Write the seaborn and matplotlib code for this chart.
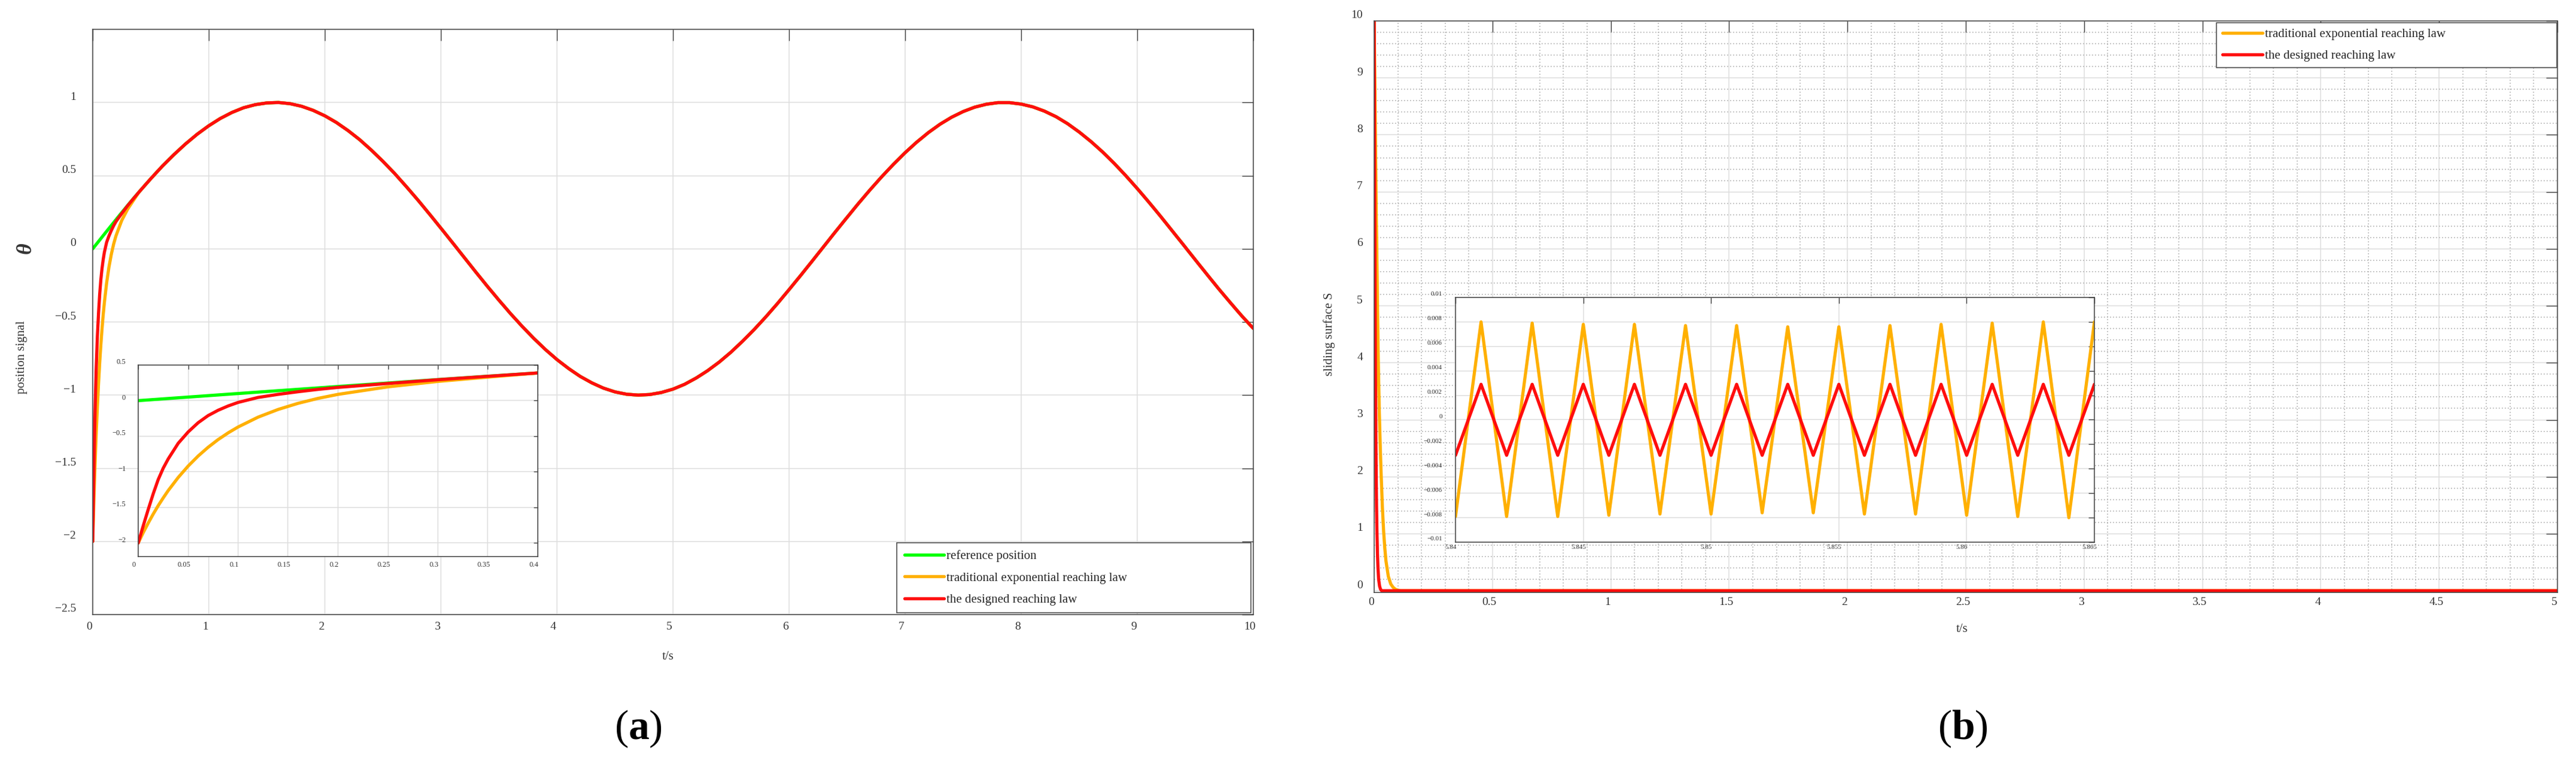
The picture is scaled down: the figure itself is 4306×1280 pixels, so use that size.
import matplotlib
matplotlib.use("Agg")
import matplotlib.pyplot as plt
import matplotlib.ticker as mticker
import matplotlib.transforms as mtransforms
import seaborn as sns

# ---------------- data ----------------
# (a) position signal: dense samples for the first 0.35 s ...
t_start = [0, 0.005, 0.01, 0.015, 0.02, 0.025, 0.03, 0.04, 0.05, 0.06, 0.07,
           0.08, 0.09, 0.10, 0.12, 0.14, 0.16, 0.18, 0.20, 0.25, 0.30, 0.35]
ref_start = [0, 0.005, 0.01, 0.015, 0.02, 0.025, 0.03, 0.04, 0.05, 0.06, 0.07,
             0.08, 0.09, 0.0998, 0.1197, 0.1395, 0.1593, 0.179, 0.1987, 0.2474,
             0.2955, 0.3429]
exp_start = [-2.0, -1.855, -1.72, -1.594, -1.476, -1.367, -1.264, -1.08, -0.919,
             -0.778, -0.655, -0.547, -0.453, -0.37, -0.232, -0.124, -0.038, 0.032,
             0.088, 0.194, 0.270, 0.330]
des_start = [-2.0, -1.76, -1.53, -1.31, -1.11, -0.95, -0.82, -0.60, -0.44, -0.31,
             -0.21, -0.135, -0.075, -0.025, 0.045, 0.088, 0.125, 0.158, 0.186,
             0.241, 0.294, 0.342]
# ... then all three curves lie on top of each other
t_track = [0.4, 0.5, 0.6, 0.7, 0.8, 0.9, 1.0, 1.1, 1.2, 1.3, 1.4, 1.5, 1.6, 1.7,
           1.8, 1.9, 2.0, 2.1, 2.2, 2.3, 2.4, 2.5, 2.6, 2.7, 2.8, 2.9, 3.0, 3.1,
           3.2, 3.3, 3.4, 3.5, 3.6, 3.7, 3.8, 3.9, 4.0, 4.1, 4.2, 4.3, 4.4, 4.5,
           4.6, 4.7, 4.8, 4.9, 5.0, 5.1, 5.2, 5.3, 5.4, 5.5, 5.6, 5.7, 5.8, 5.9,
           6.0, 6.1, 6.2, 6.3, 6.4, 6.5, 6.6, 6.7, 6.8, 6.9, 7.0, 7.1, 7.2, 7.3,
           7.4, 7.5, 7.6, 7.7, 7.8, 7.9, 8.0, 8.1, 8.2, 8.3, 8.4, 8.5, 8.6, 8.7,
           8.8, 8.9, 9.0, 9.1, 9.2, 9.3, 9.4, 9.5, 9.6, 9.7, 9.8, 9.9, 10.0]
theta_track = [0.389, 0.479, 0.565, 0.644, 0.717, 0.783, 0.841, 0.891, 0.932,
               0.964, 0.985, 0.997, 1.000, 0.992, 0.974, 0.946, 0.909, 0.863,
               0.808, 0.746, 0.675, 0.598, 0.516, 0.427, 0.335, 0.239, 0.141,
               0.042, -0.058, -0.158, -0.256, -0.351, -0.443, -0.530, -0.612,
               -0.688, -0.757, -0.818, -0.872, -0.916, -0.952, -0.978, -0.994,
               -1.000, -0.996, -0.982, -0.959, -0.926, -0.883, -0.832, -0.773,
               -0.706, -0.631, -0.551, -0.465, -0.374, -0.279, -0.182, -0.083,
               0.017, 0.117, 0.215, 0.312, 0.405, 0.494, 0.578, 0.657, 0.729,
               0.794, 0.851, 0.899, 0.938, 0.968, 0.988, 0.999, 0.999, 0.989,
               0.970, 0.941, 0.903, 0.855, 0.798, 0.734, 0.663, 0.585, 0.501,
               0.412, 0.319, 0.223, 0.124, 0.025, -0.075, -0.174, -0.272, -0.366,
               -0.458, -0.544]

# (b) sliding surface
t_s_exp = [0, 0.003, 0.006, 0.009, 0.012, 0.015, 0.018, 0.022, 0.026, 0.030, 0.035,
           0.040, 0.045, 0.050, 0.060, 0.070, 0.080, 0.090, 0.100, 0.112, 5.0]
s_exp = [10, 8.9, 7.7, 6.6, 5.7, 4.7, 3.9, 3.1, 2.5, 2.0, 1.45, 1.05, 0.75, 0.52,
         0.25, 0.12, 0.06, 0.025, 0.008, 0, 0]
t_s_des = [0, 0.002, 0.004, 0.006, 0.008, 0.010, 0.012, 0.014, 0.016, 0.019,
           0.023, 0.027, 0.032, 5.0]
s_des = [10, 7.5, 5.2, 3.5, 2.3, 1.5, 1.0, 0.65, 0.42, 0.2, 0.08, 0.025, 0, 0]

# (b) zoom on the chattering
t_chat = [5.840, 5.841, 5.842, 5.843, 5.844, 5.845, 5.846, 5.847, 5.848, 5.849,
          5.850, 5.851, 5.852, 5.853, 5.854, 5.855, 5.856, 5.857, 5.858, 5.859,
          5.860, 5.861, 5.862, 5.863, 5.864, 5.865]
s_exp_chat = [-0.0079, 0.0080, -0.0079, 0.0079, -0.0079, 0.0078, -0.0078, 0.0078,
              -0.0077, 0.0077, -0.0077, 0.0077, -0.0076, 0.0076, -0.0076, 0.0076,
              -0.0077, 0.0077, -0.0077, 0.0078, -0.0078, 0.0079, -0.0079, 0.0080,
              -0.0080, 0.0080]
s_des_chat = [-0.0029, 0.0029] * 13

# tick values
a_xticks = [0, 1, 2, 3, 4, 5, 6, 7, 8, 9, 10]
a_yticks = [-2.5, -2, -1.5, -1, -0.5, 0, 0.5, 1]
ia_xticks = [0, 0.05, 0.1, 0.15, 0.2, 0.25, 0.3, 0.35, 0.4]
ia_yticks = [-2, -1.5, -1, -0.5, 0, 0.5]
b_xticks = [0, 0.5, 1, 1.5, 2, 2.5, 3, 3.5, 4, 4.5, 5]
b_yticks = [0, 1, 2, 3, 4, 5, 6, 7, 8, 9, 10]
ib_xticks = [5.84, 5.845, 5.85, 5.855, 5.86, 5.865]
ib_yticks = [-0.01, -0.008, -0.006, -0.004, -0.002, 0, 0.002, 0.004, 0.006, 0.008, 0.01]

labels_a = ["reference position", "traditional exponential reaching law",
            "the designed reaching law"]
labels_b = ["traditional exponential reaching law", "the designed reaching law"]

GREEN, ORANGE, RED = "#00FF00", "#FFB000", "#FF0D0D"
EDGE, TXT, GRID, MINOR = "#404040", "#333333", "#dedede", "#b0b0b0"
LW = 3.8

sns.set_theme(style="white")
plt.rcParams["font.family"] = ["Liberation Serif", "DejaVu Serif"]
plt.rcParams["mathtext.fontset"] = "custom"
plt.rcParams["mathtext.rm"] = "Liberation Serif"
plt.rcParams["mathtext.bf"] = "Liberation Serif:bold"
plt.rcParams["axes.unicode_minus"] = True

W, H, DPI = 4306, 1280, 100
fig = plt.figure(figsize=(W / DPI, H / DPI), dpi=DPI)
fig.patch.set_facecolor("white")


def box(l, t, r, b):
    return [l / W, 1 - b / H, (r - l) / W, (b - t) / H]


ax_a = fig.add_axes(box(155, 49, 2095, 1027))
ins_a = fig.add_axes(box(231, 610, 899, 930))
ax_b = fig.add_axes(box(2297, 35, 4275, 990))
ins_b = fig.add_axes(box(2433, 497, 3501, 906))

fmt = mticker.FuncFormatter(lambda v, p: ("%g" % v).replace("-", "\u2212"))


def matlab_axes(ax, ticklen, size, xpad, ypad, xt, yt):
    ax.set_facecolor("white")
    for sp in ax.spines.values():
        sp.set_visible(True)
        sp.set_color(EDGE)
        sp.set_linewidth(1.1)
    ax.set_xticks(xt)
    ax.set_yticks(yt)
    ax.xaxis.set_major_formatter(fmt)
    ax.yaxis.set_major_formatter(fmt)
    ax.tick_params(which="major", direction="in", top=True, right=True,
                   length=ticklen, width=1.0, color=EDGE, labelsize=size,
                   labelcolor=TXT)
    ax.tick_params(axis="x", pad=xpad)
    ax.tick_params(axis="y", pad=ypad)
    ax.tick_params(which="minor", length=0)
    ax.grid(True, which="major", color=GRID, lw=1.1)
    ax.set_axisbelow(True)
    ax.set_xlabel("")
    ax.set_ylabel("")


def draw(ax, x, y, color, label=None):
    sns.lineplot(x=x, y=y, ax=ax, color=color, linewidth=LW, sort=False,
                 estimator=None, label=label, legend=False)


# ---------- (a) ----------
draw(ax_a, t_start + t_track, ref_start + theta_track, GREEN, labels_a[0])
draw(ax_a, t_start + t_track, exp_start + theta_track, ORANGE, labels_a[1])
draw(ax_a, t_start + t_track, des_start + theta_track, RED, labels_a[2])
ax_a.set_xlim(0, 10)
ax_a.set_ylim(-2.5, 1.5)
matlab_axes(ax_a, 14, 14, 8.3, 20, a_xticks, a_yticks)

draw(ins_a, t_start + t_track[:1], ref_start + theta_track[:1], GREEN)
draw(ins_a, t_start + t_track[:1], exp_start + theta_track[:1], ORANGE)
draw(ins_a, t_start + t_track[:1], des_start + theta_track[:1], RED)
ins_a.set_xlim(0, 0.4)
ins_a.set_ylim(-2.19, 0.5)
matlab_axes(ins_a, 5, 9, 5.8, 15, ia_xticks, ia_yticks)

leg_a = ax_a.legend(loc="lower left", bbox_to_anchor=(0.693, 0.003, 0.305, 0.133),
                    mode="expand", fontsize=15, frameon=True, fancybox=False,
                    framealpha=1, borderaxespad=0, handlelength=3.2,
                    handletextpad=0.2, labelspacing=0.8, borderpad=0.58)
leg_a.get_frame().set_edgecolor(EDGE)
leg_a.get_frame().set_linewidth(1.1)

# ---------- (b) ----------
draw(ax_b, t_s_exp, s_exp, ORANGE, labels_b[0])
draw(ax_b, t_s_des, s_des, RED, labels_b[1])
ax_b.set_xlim(0, 5)
ax_b.set_ylim(-0.03, 10)
matlab_axes(ax_b, 14, 14, 6, 13.7, b_xticks, b_yticks)
ax_b.xaxis.set_minor_locator(mticker.MultipleLocator(0.1))
ax_b.yaxis.set_minor_locator(mticker.MultipleLocator(0.2))
ax_b.grid(True, which="minor", color=MINOR, lw=1.2, ls=(0, (1, 2)))

draw(ins_b, t_chat, s_exp_chat, ORANGE)
draw(ins_b, t_chat, s_des_chat, RED)
ins_b.set_xlim(5.84, 5.865)
ins_b.set_ylim(-0.01, 0.01)
matlab_axes(ins_b, 7, 8, 3.2, 16, ib_xticks, ib_yticks)

leg_b = ax_b.legend(loc="upper left", bbox_to_anchor=(0.712, 0.909, 0.2875, 0.088),
                    mode="expand", fontsize=15, frameon=True, fancybox=False,
                    framealpha=1, borderaxespad=0, handlelength=3.2,
                    handletextpad=0.2, labelspacing=0.8, borderpad=0.46)
leg_b.get_frame().set_edgecolor(EDGE)
leg_b.get_frame().set_linewidth(1.1)

# ---------- labels ----------
fig.text(36 / W, 1 - 597 / H, "position signal", rotation=90, ha="center",
         va="center", fontsize=15, color=TXT)
fig.text(43 / W, 1 - 415 / H, "\u03b8", rotation=90, ha="center", va="center",
         fontsize=26, fontweight="bold", fontstyle="italic", color=TXT)
fig.text(2222 / W, 1 - 558 / H, "sliding surface S", rotation=90, ha="center",
         va="center", fontsize=15, color=TXT)
fig.text(1117 / W, 1 - 1097 / H, "t/s", ha="center", va="center", fontsize=15,
         color=TXT)
fig.text(3280 / W, 1 - 1052 / H, "t/s", ha="center", va="center", fontsize=15,
         color=TXT)
fig.text(1067 / W, 1 - 1218 / H, r"(${\bf a}$)", ha="center", va="center",
         fontsize=50, color="black")
fig.text(3281 / W, 1 - 1218 / H, r"(${\bf b}$)", ha="center", va="center",
         fontsize=50, color="black")


# MATLAB export puts tick labels a little off their ticks
def nudge(ax, dx, dy):
    offx = mtransforms.ScaledTranslation(dx / DPI, 0, fig.dpi_scale_trans)
    offy = mtransforms.ScaledTranslation(0, dy / DPI, fig.dpi_scale_trans)
    for lab in ax.get_xticklabels():
        lab.set_transform(lab.get_transform() + offx)
    for lab in ax.get_yticklabels():
        lab.set_transform(lab.get_transform() + offy)


nudge(ax_a, -6, 11)
nudge(ins_a, -7, 6)
nudge(ax_b, -5, 11)
nudge(ins_b, -8, 6)

fig.savefig("out.png", dpi=DPI, facecolor="white")
